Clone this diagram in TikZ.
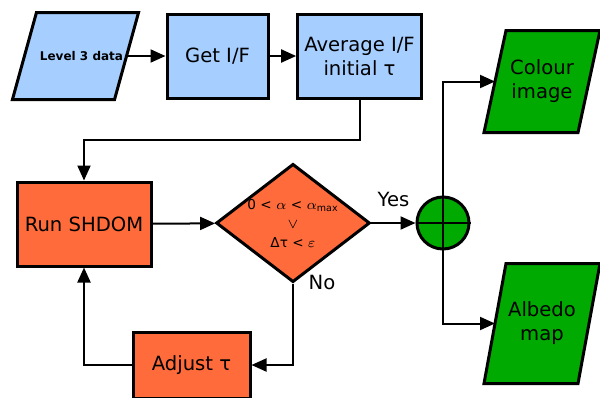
\documentclass[tikz,border=0pt]{standalone}
\usepackage{fontspec}
\setmainfont{DejaVu Sans}
\usetikzlibrary{arrows.meta,positioning,shapes.geometric,backgrounds}
\definecolor{fcblue}{HTML}{A6CEFF}
\definecolor{fcorange}{HTML}{FF6B3A}
\definecolor{fcgreen}{HTML}{00AA00}
% slanted data frame round a node: node, slant, colour
\newcommand{\paraframe}[3]{%
  \draw[line width=1.5pt, fill=#3] ([xshift=#2/2]#1.north west) -- ([xshift=#2/2]#1.north east)
    -- ([xshift=-#2/2]#1.south east) -- ([xshift=-#2/2]#1.south west) -- cycle;}

\begin{document}
\begin{tikzpicture}[x=0.5pt, y=-0.5pt,
    box/.style={draw, line width=1.5pt, rectangle, align=center, font=\fontsize{9.8}{12}\selectfont},
    io/.style={rectangle, outer sep=0.75pt, inner sep=1pt, align=center, font=\fontsize{9.8}{12}\selectfont},
    arr/.style={line width=1pt, -{Triangle[length=7.5pt,width=6.5pt]}}]
      \useasboundingbox (0,0) rectangle (600,397);

      % Nodes
      \node[io, minimum width=47.5pt, minimum height=42pt,
        font=\fontsize{6}{7}\selectfont\bfseries] (data) at (75.5,56) {\hspace{6pt}Level 3 data};
      \node[box, fill=fcblue, minimum width=50.5pt, minimum height=42pt] (getif) at (217.5,56) {Get I/F};
      \node[box, fill=fcblue, minimum width=58.5pt, minimum height=42pt] (avg) at (359.5,56) {Average I/F\\initial τ};
      \node[box, fill=fcorange, minimum width=67pt, minimum height=42pt] (shdom) at (84,224) {Run SHDOM};
      \node[draw, line width=1.5pt, diamond, aspect=1.3, inner sep=0pt, fill=fcorange,
        minimum width=74.5pt, minimum height=57.5pt, align=center,
        font=\fontsize{6.8}{9.5}\selectfont] (test) at (293,223)
        {0 < $\alpha$ < $\alpha$\textsubscript{max}\\$\vee$\\Δτ < $\varepsilon$};
      \node[box, fill=fcorange, minimum width=58.5pt, minimum height=33pt] (adjust) at (191.5,365) {Adjust τ};
      \node[draw, line width=1.5pt, circle, fill=fcgreen, minimum size=26pt, inner sep=0pt] (join) at (443,223) {};
      \node[io, minimum width=45.5pt, minimum height=49.5pt] (colour) at (542,81.5) {Colour\\image};
      \node[io, minimum width=45.5pt, minimum height=58.5pt] (albedo) at (542,323.5) {Albedo\\map};

      \begin{scope}[on background layer]
        \paraframe{data}{12pt}{fcblue}
        \paraframe{colour}{11pt}{fcgreen}
        \paraframe{albedo}{11pt}{fcgreen}
      \end{scope}

      % Arrows
      \draw[arr] (data) -- (getif);
      \draw[arr] (getif) -- (avg);
      \draw[arr] (avg.south) -- ++(0,40) -| (shdom.north);
      \draw[arr] (shdom) -- (test);
      \draw[arr] (test.east) -- node[above, font=\fontsize{9.8}{12}\selectfont, yshift=4.5pt] (yes) {Yes} (join.west);
      \draw[arr] (test.south) |- (adjust.east);
      \draw[arr] (adjust.west) -| (shdom.south);
      \draw[line width=1pt] (join.north) -- (join.south) (join.west) -- (join.east);
      \draw[arr] (join.north) |- (colour);
      \draw[arr] (join.south) |- (albedo);

      % Annotations
      \node[font=\fontsize{9.8}{12}\selectfont] (no) at (322,282) {No};
    \end{tikzpicture}
\end{document}
